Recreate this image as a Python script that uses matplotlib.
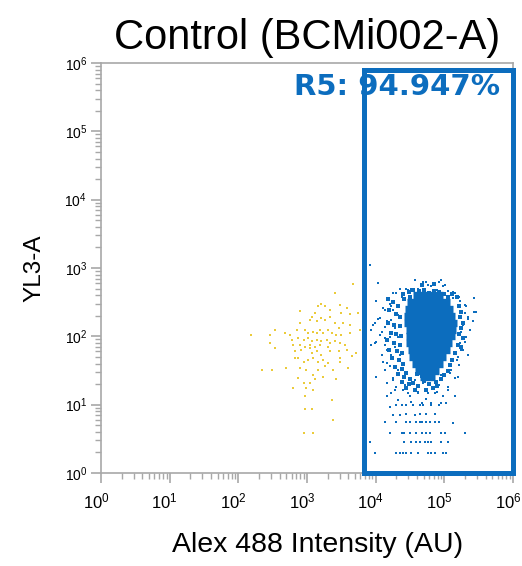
import numpy as np
import matplotlib
matplotlib.use("Agg")
import matplotlib.pyplot as plt
from matplotlib.patches import Rectangle
from matplotlib.transforms import ScaledTranslation

plt.rcParams['font.family'] = ['Liberation Sans', 'DejaVu Sans']
plt.rcParams['mathtext.fontset'] = 'custom'
plt.rcParams['mathtext.rm'] = 'Liberation Sans'
plt.rcParams['mathtext.it'] = 'Liberation Sans'

# events outside the gate (log10 units)
yellow_logx = [3.41, 3.67, 3.21, 3.16, 3.26, 3.33, 3.48, 3.50, 3.63, 3.75, 3.58, 3.12, 3.07, 3.04,
               3.14, 3.21, 3.26, 3.33, 3.41, 3.46, 3.53, 3.63, 2.90, 2.90, 2.85, 2.97, 3.02, 3.09,
               3.14, 3.19, 3.24, 3.31, 3.36, 3.43, 3.50, 3.63, 3.77, 2.75, 2.78, 2.87, 2.95, 3.02,
               3.07, 3.14, 3.21, 3.29, 3.33, 3.41, 3.48, 3.55, 2.68, 2.80, 2.90, 2.97, 3.04, 3.12,
               3.19, 3.31, 2.46, 2.53, 2.46, 2.53, 2.82, 2.92, 3.04, 3.07, 3.14, 3.21, 3.33, 3.46,
               3.58, 3.65, 3.72, 2.82, 2.87, 2.95, 3.02, 3.09, 3.16, 3.24, 3.31, 3.48, 3.48, 2.34,
               2.49, 2.70, 2.90, 2.99, 3.09, 3.16, 3.26, 3.38, 3.60, 2.87, 2.95, 3.04, 3.12, 3.24,
               3.43, 2.80, 2.99, 3.09, 2.97, 3.36, 2.97, 3.07, 3.38, 2.95, 3.09, 2.19]
yellow_logy = [2.63, 2.76, 2.48, 2.44, 2.45, 2.39, 2.46, 2.34, 2.32, 2.34, 2.42, 2.34, 2.29, 2.24,
               2.22, 2.27, 2.24, 2.29, 2.20, 2.12, 2.20, 2.17, 2.37, 2.20, 2.10, 2.10, 2.05, 2.07,
               2.05, 2.10, 2.05, 2.10, 2.05, 2.02, 2.02, 2.05, 2.10, 2.02, 1.95, 1.98, 1.95, 1.98,
               1.93, 1.95, 1.93, 1.95, 1.90, 1.93, 1.90, 1.88, 2.05, 1.88, 1.88, 1.85, 1.88, 1.85,
               1.88, 1.85, 2.02, 2.10, 1.90, 1.83, 1.78, 1.80, 1.83, 1.76, 1.78, 1.73, 1.78, 1.78,
               1.80, 1.71, 1.76, 1.68, 1.68, 1.63, 1.66, 1.68, 1.63, 1.66, 1.61, 1.68, 1.63, 1.51,
               1.51, 1.54, 1.54, 1.51, 1.44, 1.51, 1.56, 1.51, 1.54, 1.39, 1.32, 1.32, 1.37, 1.41,
               1.37, 1.24, 1.24, 1.22, 1.12, 1.07, 0.93, 0.93, 0.78, 0.59, 0.59, 2.02]

# sparse events inside the gate (log10 units)
blue_logx = [3.92, 4.04, 4.57, 4.69, 4.76, 4.93, 4.98, 4.35, 4.47, 4.26, 5.13, 5.22, 5.44, 4.18,
             4.01, 4.11, 4.23, 5.32, 5.47, 5.35, 5.42, 4.06, 3.99, 4.16, 3.94, 4.09, 4.13, 4.01,
             5.25, 5.32, 5.23, 5.27, 3.94, 4.16, 4.11, 4.21, 4.13, 5.18, 5.22, 5.08, 5.15, 4.26,
             4.16, 4.30, 5.06, 4.93, 4.16, 4.23, 4.40, 4.50, 4.62, 4.74, 4.86, 4.98, 4.30, 4.38,
             4.45, 4.55, 4.64, 4.69, 4.81, 4.93, 4.21, 5.03, 4.35, 4.45, 4.57, 4.64, 4.74, 4.86,
             4.26, 4.13, 4.30, 4.45, 4.50, 4.59, 4.64, 4.67, 4.74, 4.79, 4.86, 4.93, 5.13, 4.21,
             4.38, 4.42, 4.50, 4.59, 4.67, 4.74, 4.79, 4.96, 5.01, 5.30, 3.92, 4.42, 4.52, 4.59,
             4.64, 4.72, 4.76, 4.81, 4.96, 5.06, 3.99, 4.30, 4.35, 4.40, 4.45, 4.52, 4.62, 4.76,
             4.81, 4.86, 4.98, 5.03,
             4.74, 4.96, 5.01, 4.45, 4.52, 4.62, 4.81, 4.89, 5.06, 5.15, 4.30, 4.38, 5.13, 5.23,
             5.30, 4.21, 4.13, 4.26, 4.04, 4.23, 4.33, 5.30, 5.35, 5.44, 5.27, 5.37, 3.96, 4.13,
             4.28, 4.06, 4.21, 4.33, 3.99, 4.13, 4.28, 5.30, 5.25, 4.09, 4.23, 4.35, 5.20, 5.35,
             4.16, 4.33, 4.57, 4.69, 4.81, 4.96, 5.10, 5.20, 4.26, 4.43, 4.28, 4.47, 4.62, 4.77,
             4.89, 5.06, 5.15, 4.33, 4.52, 4.67, 4.81, 4.96, 4.01]
blue_logy = [3.05, 2.78, 2.83, 2.80, 2.75, 2.80, 2.73, 2.70, 2.68, 2.63, 2.65, 2.58, 2.56, 2.53,
             2.51, 2.41, 2.44, 2.44, 2.36, 2.29, 2.22, 2.27, 2.19, 2.22, 2.09, 2.07, 1.97, 1.92,
             2.07, 1.99, 1.90, 1.80, 1.87, 1.80, 1.63, 1.56, 1.51, 1.65, 1.58, 1.46, 1.39, 1.39,
             1.31, 1.26, 1.26, 1.29, 1.12, 1.17, 1.22, 1.12, 1.17, 1.09, 1.17, 1.12, 0.99, 0.99,
             0.99, 0.99, 0.99, 0.99, 0.99, 0.99, 0.97, 1.02, 0.85, 0.87, 0.85, 0.86, 0.87, 0.87,
             0.85, 0.75, 0.75, 0.75, 0.75, 0.75, 0.75, 0.75, 0.75, 0.75, 0.75, 0.75, 0.73, 0.58,
             0.58, 0.58, 0.58, 0.58, 0.58, 0.58, 0.58, 0.58, 0.58, 0.58, 0.46, 0.46, 0.46, 0.46,
             0.46, 0.46, 0.46, 0.46, 0.46, 0.46, 0.29, 0.29, 0.29, 0.29, 0.29, 0.29, 0.29, 0.29,
             0.29, 0.29, 0.29, 0.29,
             2.80, 2.83, 2.75, 2.70, 2.70, 2.70, 2.73, 2.68, 2.66, 2.63, 2.63, 2.58, 2.56, 2.51,
             2.46, 2.48, 2.39, 2.39, 2.26, 2.24, 2.31, 2.34, 2.26, 2.36, 2.17, 2.09, 2.17, 2.14,
             2.12, 2.02, 1.99, 1.99, 1.90, 1.87, 1.85, 1.92, 1.80, 1.73, 1.73, 1.73, 1.70, 1.73,
             1.61, 1.51, 1.36, 1.31, 1.39, 1.43, 1.51, 1.41, 1.36, 1.29, 1.21, 1.17, 1.19, 1.17,
             1.19, 1.21, 1.12, 1.07, 1.04, 1.02, 1.02, 1.02, 1.41]

# denser stippling around the core (log10 units)
ring_logx = [4.18, 4.25, 4.32, 4.20, 4.30, 4.36, 4.18, 4.27, 4.35, 4.22, 4.30, 4.37, 4.17, 4.27,
             4.36, 4.20, 4.31, 4.38, 4.24, 4.34, 4.40, 4.28, 4.38, 4.45, 4.32, 4.42, 4.50, 4.38,
             4.48, 5.22, 5.25, 5.23, 5.28, 5.24, 5.22, 5.27, 5.20, 5.24, 5.15, 5.12, 5.08, 5.05,
             5.00, 4.95, 4.88, 5.18, 5.12, 4.40, 4.48, 4.55, 4.63, 4.70, 4.78, 4.85, 4.92, 5.00,
             5.05, 4.50, 4.42, 4.68, 4.85, 4.55, 4.62, 4.70, 4.78, 4.83, 4.58, 4.73, 4.90, 4.45,
             4.67, 4.75, 4.60]
ring_logy = [2.55, 2.50, 2.45, 2.38, 2.33, 2.28, 2.20, 2.17, 2.15, 2.05, 2.04, 2.00, 1.95, 1.90,
             1.88, 1.80, 1.78, 1.75, 1.68, 1.65, 1.60, 1.55, 1.52, 1.47, 1.45, 1.40, 1.38, 1.33,
             1.30, 2.45, 2.35, 2.28, 2.20, 2.12, 2.03, 1.97, 1.88, 1.85, 1.75, 1.65, 1.58, 1.50,
             1.44, 1.37, 1.33, 2.58, 2.62, 2.62, 2.65, 2.68, 2.66, 2.68, 2.64, 2.67, 2.65, 2.62,
             2.58, 2.58, 2.55, 2.75, 2.76, 1.32, 1.27, 1.35, 1.30, 1.25, 1.22, 1.22, 1.28, 1.25,
             1.42, 1.45, 1.45]

# saturated core of the gated population: row centre and x extent (log10 units)
core_logy = [2.60, 2.50, 2.40, 2.30, 2.20, 2.10, 2.00, 1.90, 1.80, 1.70, 1.60, 1.50, 1.40]
core_logx0 = [4.54, 4.46, 4.43, 4.42, 4.42, 4.44, 4.45, 4.45, 4.47, 4.49, 4.53, 4.58, 4.64]
core_logx1 = [4.98, 5.08, 5.13, 5.16, 5.18, 5.17, 5.15, 5.12, 5.08, 5.03, 4.98, 4.92, 4.86]

gate_x = (10**3.83, 1e6)
gate_y = (1e0, 10**5.9)
gate_label = "R5: 94.947%"

blue = '#0C6DBE'
gold = '#EBCB3B'
grey = '#A8A8A8'

fig = plt.figure(figsize=(5.22, 5.66), dpi=100)
ax = fig.add_axes([0.1935, 0.1643, 0.789, 0.7244])
ax.set_xscale('log')
ax.set_yscale('log')
ax.set_xlim(1, 1e6)
ax.set_ylim(1, 1e6)

ax.scatter(10**np.array(yellow_logx), 10**np.array(yellow_logy), s=4, marker='s',
           color=gold, linewidths=0, zorder=3)
ax.hlines(10**np.array(core_logy), 10**np.array(core_logx0), 10**np.array(core_logx1),
          colors=blue, linewidth=5.3, zorder=3)
ax.scatter(10**np.array(blue_logx), 10**np.array(blue_logy), s=4, marker='s',
           color=blue, linewidths=0, zorder=3)
ax.scatter(10**np.array(ring_logx), 10**np.array(ring_logy), s=5, marker='s',
           color=blue, linewidths=0, zorder=3)

ax.add_patch(Rectangle((gate_x[0], gate_y[0]), gate_x[1] - gate_x[0], gate_y[1] - gate_y[0],
                       fill=False, edgecolor=blue, linewidth=3.6, zorder=4, clip_on=False))
ax.text(0.968, 0.941, gate_label, transform=ax.transAxes, ha='right', va='center',
        fontsize=21, fontweight='bold', color=blue, family='DejaVu Sans', zorder=5)

for s in ax.spines.values():
    s.set_color(grey)
    s.set_linewidth(1.2)

ticks = [10.0**k for k in range(7)]
ax.set_xticks(ticks)
ax.set_yticks(ticks)
ax.set_xticklabels([r'$10^{%d}$' % k for k in range(7)], fontsize=12)
ax.set_yticklabels([r'$10^{%d}$' % k for k in range(7)], fontsize=10)
ax.tick_params(which='major', length=7, width=1.2, color=grey, direction='out', pad=6)
ax.tick_params(which='minor', length=4, width=1.0, color=grey, direction='out')
ax.tick_params(axis='y', pad=3)

# the "10" sits left of the tick, exponent just past it
shift = ScaledTranslation(-0.05, 0, fig.dpi_scale_trans)
for lab in ax.get_xticklabels():
    lab.set_transform(lab.get_transform() + shift)

ax.set_title("Control (BCMi002-A)", fontsize=30, pad=10)
ax.set_xlabel("Alex 488 Intensity (AU)", fontsize=20.5)
ax.xaxis.set_label_coords(0.527, -0.143)
ax.set_ylabel("YL3-A", fontsize=17.5, labelpad=14)

fig.savefig("out.png", dpi=100)
